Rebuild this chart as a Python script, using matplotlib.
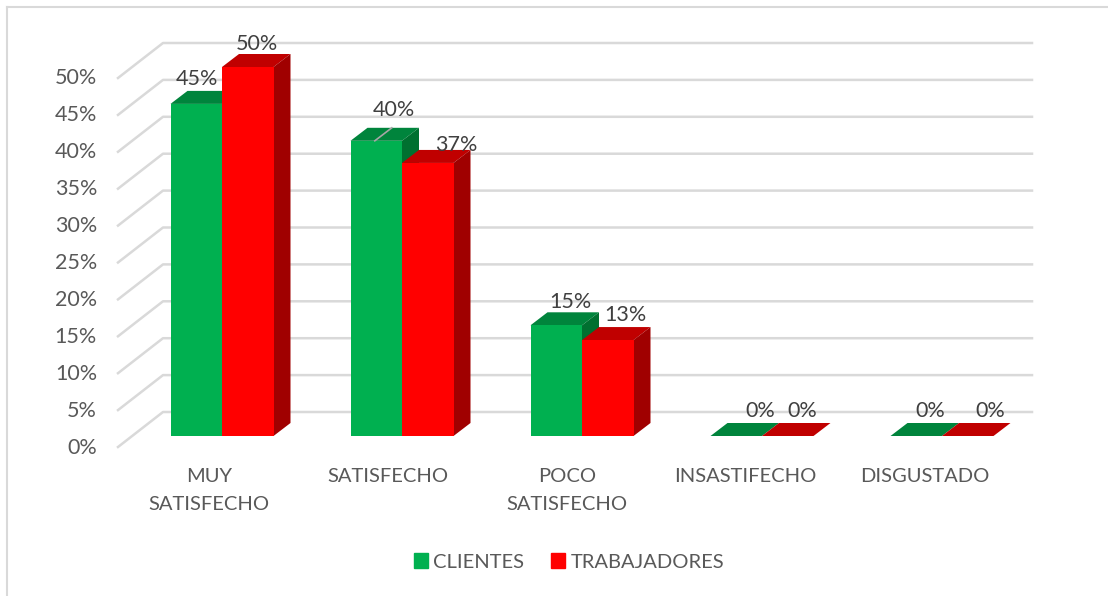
import matplotlib
matplotlib.use('Agg')
import matplotlib.pyplot as plt
from matplotlib.patches import Patch

plt.rcParams['font.family'] = ['Lato', 'DejaVu Sans']

categories = ['MUY\nSATISFECHO', 'SATISFECHO', 'POCO\nSATISFECHO', 'INSASTIFECHO', 'DISGUSTADO']
clientes = [45, 40, 15, 0, 0]
trabajadores = [50, 37, 13, 0, 0]
y_ticks = [0, 5, 10, 15, 20, 25, 30, 35, 40, 45, 50]

# label offsets from the top of each bar, in pixels
off_clientes = [(1, 25), (18, 31), (14, 23), (24, 25), (14, 25)]
off_trabajadores = [(9, 23), (29, 18), (18, 25), (15, 25), (23, 25)]

# pixel scale of the picture
px_x = 180.0
px_y = 7.38
dx = 17 / px_x
dy = 13 / px_y
w = 51.5 / px_x

fig = plt.figure(figsize=(11.08, 5.96), dpi=100)
ax = fig.add_axes([0, 0, 1, 1])
ax.set_xlim(-222 / px_x, (1108 - 222) / px_x)
ax.set_ylim((436 - 596) / px_y, 436 / px_y)
ax.axis('off')

# frame of the chart
ax.plot([7 / px_x - 222 / px_x] * 2, [(436 - 596) / px_y, (436 - 7) / px_y], color='#d9d9d9', lw=1.5)
ax.plot([7 / px_x - 222 / px_x, (1108 - 222) / px_x], [(436 - 7) / px_y] * 2, color='#d9d9d9', lw=1.5)

# back wall and side wall lines
wall_x0 = (118 - 222) / px_x
wall_x1 = (163 - 222) / px_x
wall_x2 = (1032 - 222) / px_x
for v in y_ticks:
    ax.plot([wall_x0, wall_x1, wall_x2], [v - 11 / px_y, v + 24 / px_y, v + 24 / px_y],
            color='#d9d9d9', lw=1.8, zorder=1)
    ax.text(-125 / px_x, v - 11.5 / px_y, f'{v}%', ha='right', va='center', fontsize=15.5, color='#595959')


def draw_bars(x_left, values, front, top, side, z):
    ax.bar(x_left, values, width=w, align='edge', color=front, zorder=z + 0.2)
    for x, v in zip(x_left, values):
        ax.fill([x, x + w, x + w + dx, x + dx], [v, v, v + dy, v + dy], color=top, lw=0, zorder=z)
        if v > 0:
            ax.fill([x + w, x + w + dx, x + w + dx, x + w], [0, dy, v + dy, v], color=side, lw=0, zorder=z)


xs = list(range(len(categories)))
draw_bars([x - w for x in xs], clientes, '#00b050', '#00843c', '#007030', 2)
draw_bars(xs, trabajadores, '#ff0000', '#c00000', '#a00000', 3)

# leader line of the 40% label
ax.plot([1 - w + 0.135, 1 - w + 0.135 + dx], [40, 40 + dy], color='#a6a6a6', lw=1.2, zorder=4)

for x, v, off in zip(xs, clientes, off_clientes):
    ax.annotate(f'{v}%', (x - w / 2, v), xytext=off, textcoords='offset pixels',
                ha='center', va='center', fontsize=15.5, color='#404040', zorder=6)
for x, v, off in zip(xs, trabajadores, off_trabajadores):
    ax.annotate(f'{v}%', (x + w / 2, v), xytext=off, textcoords='offset pixels',
                ha='center', va='center', fontsize=15.5, color='#404040', zorder=6)

for x, c in zip(xs, categories):
    ax.text(x - (13 + x * 1.1) / px_x, -32 / px_y, c, ha='center', va='top', fontsize=14.5,
            color='#595959', linespacing=1.75)

handles = [Patch(color='#00b050', label='CLIENTES'), Patch(color='#ff0000', label='TRABAJADORES')]
ax.legend(handles=handles, loc='center', bbox_to_anchor=(569 / 1108, 1 - 562 / 596), ncol=2, frameon=False,
          fontsize=14.5, labelcolor='#595959', handlelength=0.7, handleheight=0.7,
          handletextpad=0.25, columnspacing=1.35)

fig.savefig('out.png', dpi=100)
